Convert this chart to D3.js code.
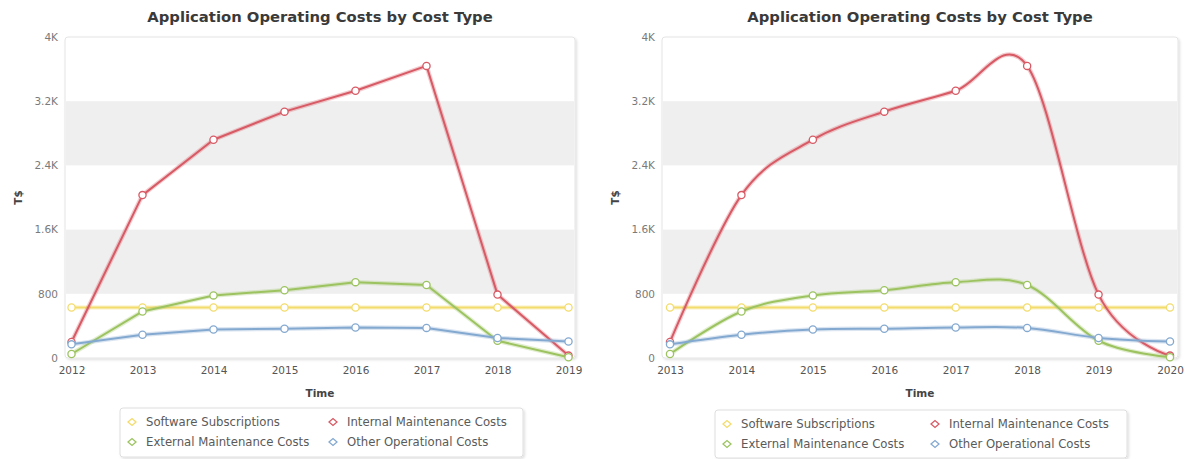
<!DOCTYPE html>
<html>
<head>
<meta charset="utf-8">
<script src="https://cdn.jsdelivr.net/npm/d3@7"></script>
<style>
  html, body { margin: 0; padding: 0; background: #fff; }
  svg { display: block; font-family: "DejaVu Sans", Verdana, sans-serif; }
</style>
</head>
<body>
<svg id="chart" width="1189" height="459"></svg>
<script>
// Years shown on each of the two panels
const yearsA = ["2012", "2013", "2014", "2015", "2016", "2017", "2018", "2019"];
const yearsB = ["2013", "2014", "2015", "2016", "2017", "2018", "2019", "2020"];

// Cost values (T$) per year
const softwareSubscriptions = [630, 630, 630, 630, 630, 630, 630, 630];
const internalMaintenance   = [200, 2030, 2720, 3070, 3330, 3640, 790, 30];
const externalMaintenance   = [50, 580, 780, 845, 945, 910, 215, 10];
const otherOperational      = [170, 290, 355, 365, 380, 375, 250, 205];

const seriesNames  = ["Software Subscriptions", "Internal Maintenance Costs",
                      "External Maintenance Costs", "Other Operational Costs"];
const seriesColors = ["#f3dc6c", "#d75a65", "#9cc360", "#84a9d0"];
const yTicks = [0, 800, 1600, 2400, 3200, 4000];
const yTickLabels = ["0", "800", "1.6K", "2.4K", "3.2K", "4K"];

const chartTitle = "Application Operating Costs by Cost Type";
const yTitle = "T$";
const xTitle = "Time";

const seriesValues = [softwareSubscriptions, internalMaintenance, externalMaintenance, otherOperational];
const series = seriesNames.map((name, i) => ({ name, color: seriesColors[i], values: seriesValues[i] }));

const svg = d3.select("#chart");

const defs = svg.append("defs");
const shadow = defs.append("filter").attr("id", "soft").attr("x", "-5%").attr("y", "-5%").attr("width", "110%").attr("height", "115%");
shadow.append("feDropShadow").attr("dx", 1.5).attr("dy", 1.5).attr("stdDeviation", 1.2).attr("flood-color", "#000").attr("flood-opacity", 0.12);

function drawPanel(opts) {
  const g = svg.append("g");
  const { left, right, top, bottom, padX, years, curve } = opts;

  const x = d3.scaleLinear().domain([0, years.length - 1]).range([left + padX, right - padX]);
  const y = d3.scaleLinear().domain([0, 4000]).range([bottom, top]);

  // title
  g.append("text")
    .attr("x", (left + right) / 2).attr("y", 22)
    .attr("text-anchor", "middle")
    .attr("font-size", 14.8).attr("font-weight", "bold").attr("fill", "#3a3a3a")
    .text(chartTitle);

  // plot area frame
  g.append("rect")
    .attr("x", left).attr("y", top).attr("width", right - left).attr("height", bottom - top)
    .attr("rx", 3).attr("fill", "#fff").attr("stroke", "#e4e4e4").attr("filter", "url(#soft)");

  // alternating grid bands
  const bands = [[800, 1600], [2400, 3200]];
  g.selectAll(".band").data(bands).join("rect")
    .attr("x", left + 1).attr("width", right - left - 2)
    .attr("y", d => y(d[1])).attr("height", d => y(d[0]) - y(d[1]))
    .attr("fill", "#efefef");

  // y axis
  const yAxis = d3.axisLeft(y).tickValues(yTicks).tickFormat((d, i) => yTickLabels[i]).tickSize(0).tickPadding(7);
  const ya = g.append("g").attr("transform", `translate(${left},0)`).call(yAxis);
  ya.select(".domain").remove();
  ya.selectAll("text").attr("font-size", 10.5).attr("fill", "#7a7a7a").attr("font-family", "DejaVu Sans, sans-serif");

  // x axis
  const xAxis = d3.axisBottom(x).tickValues(d3.range(years.length)).tickFormat(i => years[i]).tickSize(0).tickPadding(9);
  const xa = g.append("g").attr("transform", `translate(0,${bottom})`).call(xAxis);
  xa.select(".domain").remove();
  xa.selectAll("text").attr("font-size", 10.5).attr("fill", "#555").attr("font-family", "DejaVu Sans, sans-serif");

  // axis titles
  g.append("text")
    .attr("transform", `translate(${left - 47},${(top + bottom) / 2}) rotate(-90)`)
    .attr("text-anchor", "middle").attr("dy", "0.35em")
    .attr("font-size", 10.5).attr("font-weight", "bold").attr("fill", "#444")
    .text(yTitle);
  g.append("text")
    .attr("x", (left + right) / 2).attr("y", 397)
    .attr("text-anchor", "middle")
    .attr("font-size", 10.5).attr("font-weight", "bold").attr("fill", "#444")
    .text(xTitle);

  // series lines
  const line = d3.line().x((d, i) => x(i)).y(d => y(d)).curve(curve);
  const sg = g.append("g").selectAll("g").data(series).join("g");
  sg.append("path")
    .attr("d", d => line(d.values))
    .attr("fill", "none").attr("stroke", d => d.color)
    .attr("stroke-width", 4.5).attr("stroke-opacity", 0.3).attr("stroke-linejoin", "round");
  sg.append("path")
    .attr("d", d => line(d.values))
    .attr("fill", "none").attr("stroke", d => d.color)
    .attr("stroke-width", 2).attr("stroke-linejoin", "round");
  sg.selectAll("circle").data(d => d.values.map(v => ({ v, color: d.color }))).join("circle")
    .attr("cx", (d, i) => x(i)).attr("cy", d => y(d.v)).attr("r", 3.6)
    .attr("fill", "#fff").attr("stroke", d => d.color).attr("stroke-width", 1.3);

  // legend
  const lg = g.append("g");
  const lx = opts.legend.x, ly = opts.legend.y, lw = opts.legend.w, lh = opts.legend.h;
  lg.append("rect").attr("x", lx).attr("y", ly).attr("width", lw).attr("height", lh)
    .attr("rx", 3).attr("fill", "#fff").attr("stroke", "#dedede").attr("filter", "url(#soft)");
  const cols = [lx + 12, lx + opts.legend.col2];
  const rows = [ly + 14, ly + 34];
  const items = lg.selectAll(".item").data(series).join("g")
    .attr("transform", (d, i) => `translate(${cols[i % 2]},${rows[Math.floor(i / 2)]})`);
  items.append("path")
    .attr("d", "M-4,0 L0,-3.5 L4,0 L0,3.5 Z")
    .attr("fill", "#fff").attr("stroke", d => d.color).attr("stroke-width", 1.3);
  items.append("text")
    .attr("x", 14).attr("dy", "0.35em")
    .attr("font-size", 11.7).attr("fill", "#5a5a5a")
    .text(d => d.name);
}

drawPanel({
  left: 65, right: 575, top: 37, bottom: 358, padX: 6.5,
  years: yearsA, curve: d3.curveLinear,
  legend: { x: 120, y: 408, w: 403, h: 49, col2: 213 }
});

drawPanel({
  left: 662, right: 1178, top: 37, bottom: 358, padX: 8,
  years: yearsB, curve: d3.curveCardinal.tension(0),
  legend: { x: 715, y: 410, w: 412, h: 48, col2: 220 }
});
</script>
</body>
</html>
